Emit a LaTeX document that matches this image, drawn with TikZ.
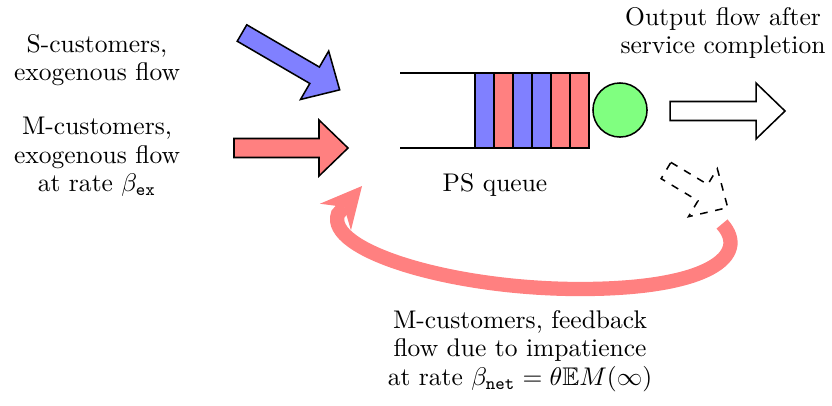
\documentclass[tikz,border=0pt]{standalone}
\usepackage{mathtools, amsfonts}
\usetikzlibrary{arrows.meta}

% fat block arrow: style, tail centre, angle, length
\newcommand{\fatarrow}[4]{%
  \draw[#1,shift={#2},rotate=#3] (0,-9.5) -- ({#4-29},-9.5) -- ({#4-29},-28) -- (#4,0)
    -- ({#4-29},28) -- ({#4-29},9.5) -- (0,9.5) -- cycle;}

\tikzset{
  txt/.style={align=center, inner sep=0pt, font=\fontsize{10}{11.2}\selectfont},
  feedback/.style={red!50, line width=5.6pt,
    -{Stealth[length=16pt, width=16pt, line width=0pt]}}
}

\begin{document}
\begin{tikzpicture}[x=0.392pt, y=-0.392pt, semithick]
        \useasboundingbox (0,0) rectangle (832,405);

        % Incoming flows
        \fatarrow{fill=blue!50}{(242,33)}{-30.2}{113}
        \fatarrow{fill=red!50}{(234,148)}{0}{114}

        % Queue
        \draw (400,73) -- (589,73);
        \draw (400,148) -- (589,148);
        \foreach \i/\col in {0/blue,1/red,2/blue,3/blue,4/red,5/red}
        \draw[fill=\col!50] ({475+19*\i},73) rectangle ++(19,75);

        % Server
        \node[circle, draw, fill=green!50, minimum size=21.2pt, inner sep=0pt] (server) at (620,110) {};

        % Outgoing flows
        \fatarrow{fill=white}{(670,111)}{0}{115}
        \fatarrow{dashed}{(666,170.5)}{-31}{72}

        % Feedback
        \coordinate (fbstart) at (722,224);
        \coordinate (fbend) at (362,186);
        \draw[feedback] (fbstart) .. controls (750,255) and (710,289) .. (580,289)
            .. controls (450,289) and (325,250) .. (338,214) -- (fbend);

        % Labels
        \node[txt] (sflow) at (97,60) {S-customers,\\exogenous flow};
        \node[txt] (mflow) at (97,157) {M-customers,\\exogenous flow\\at rate $\beta_{\mathtt{ex}}$};
        \node[txt] (outflow) at (723,33) {Output flow after\\service completion};
        \node[txt] (queue) at (495,185) {PS queue};
        \node[txt] (fbflow) at (520,351) {M-customers, feedback\\flow due to impatience\\at rate $\beta_{\mathtt{net}} = \theta\mathbb{E}M(\infty)$};

\end{tikzpicture}
\end{document}
